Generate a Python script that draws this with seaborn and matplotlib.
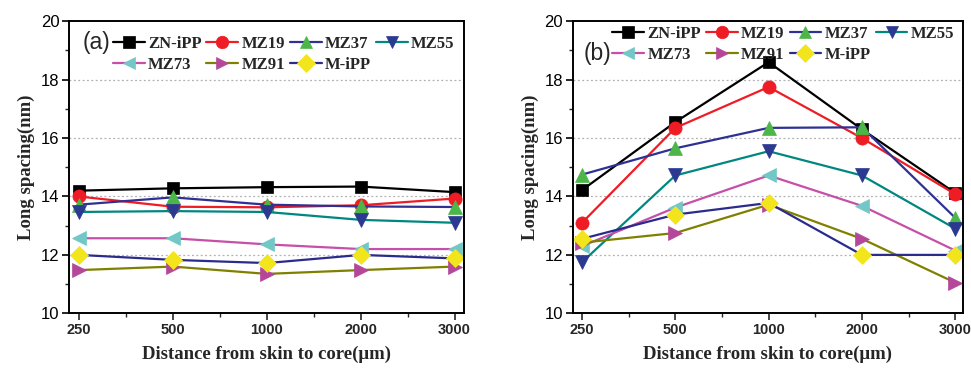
import numpy as np
import pandas as pd
import matplotlib
matplotlib.use("Agg")
import matplotlib.pyplot as plt
import seaborn as sns
from matplotlib.ticker import MultipleLocator, FixedLocator

sns.set_theme(style="white")
plt.rcParams['font.family'] = ['Liberation Sans', 'DejaVu Sans']

distances = ["250", "500", "1000", "2000", "3000"]
series = ["ZN-iPP", "MZ19", "MZ37", "MZ55", "MZ73", "MZ91", "M-iPP"]

a_zn = [14.20, 14.28, 14.32, 14.34, 14.15]
a_mz19 = [14.00, 13.65, 13.63, 13.70, 13.93]
a_mz37 = [13.72, 13.97, 13.72, 13.66, 13.64]
a_mz55 = [13.47, 13.50, 13.47, 13.20, 13.10]
a_mz73 = [12.57, 12.57, 12.36, 12.20, 12.20]
a_mz91 = [11.48, 11.60, 11.35, 11.48, 11.60]
a_mipp = [12.00, 11.83, 11.72, 12.00, 11.88]

b_zn = [14.22, 16.55, 18.60, 16.30, 14.12]
b_mz19 = [13.10, 16.35, 17.75, 16.00, 14.08]
b_mz37 = [14.75, 15.65, 16.35, 16.37, 13.27]
b_mz55 = [11.75, 14.72, 15.55, 14.72, 12.90]
b_mz73 = [12.30, 13.62, 14.72, 13.68, 12.15]
b_mz91 = [12.42, 12.75, 13.72, 12.55, 11.05]
b_mipp = [12.55, 13.38, 13.78, 12.00, 12.00]

line_colors = ["#000000", "#ee1c25", "#2e3192", "#00877f", "#c64fa8", "#808000", "#2b2b8c"]
marker_colors = ["#000000", "#ee1c25", "#4cb748", "#2b3990", "#72c8c6", "#b5479b", "#f2e51c"]
markers = ["s", "o", "^", "v", "<", ">", "D"]
msizes = [8, 9.5, 10, 10, 10, 10, 9]

panels = [
    ("(a)", [a_zn, a_mz19, a_mz37, a_mz55, a_mz73, a_mz91, a_mipp]),
    ("(b)", [b_zn, b_mz19, b_mz37, b_mz55, b_mz73, b_mz91, b_mipp]),
]

fig = plt.figure(figsize=(9.71, 3.69), dpi=100)
axes_pos = [[69/971, 55.7/369, 395/971, 292/369],
            [572.7/971, 55.7/369, 390/971, 292/369]]
label_pos = [(0.070, 0.929), (0.064, 0.891)]
legend_anchor = [(0.111, 0.951), (0.102, 0.985)]

serif = ['Liberation Serif', 'DejaVu Serif']
narrow = ['Liberation Sans Narrow', 'Liberation Sans', 'DejaVu Sans']

# legend order so that rows read ZN-iPP, MZ19, MZ37, MZ55 / MZ73, MZ91, M-iPP
leg_order = [0, 4, 1, 5, 2, 6, 3]

xpos = np.arange(len(distances))
for k, (tag, data) in enumerate(panels):
    ax = fig.add_axes(axes_pos[k])
    for i, name in enumerate(series):
        df = pd.DataFrame({"x": xpos, "y": data[i]})
        sns.lineplot(data=df, x="x", y="y", ax=ax, sort=False, color=line_colors[i],
                     linewidth=1.6, marker=markers[i], markersize=msizes[i],
                     markerfacecolor=marker_colors[i], markeredgecolor=marker_colors[i],
                     markeredgewidth=0.5, label=name)
    ax.set_ylim(10, 20)
    ax.set_xlim(-0.105 if k == 0 else -0.1, 4.1 if k == 0 else 4.08)
    ax.yaxis.set_major_locator(MultipleLocator(2))
    ax.yaxis.set_minor_locator(MultipleLocator(1))
    ax.xaxis.set_major_locator(FixedLocator(xpos))
    ax.xaxis.set_minor_locator(FixedLocator(xpos[:-1] + 0.5))
    ax.set_xticks(xpos)
    ax.set_xticklabels(distances, fontweight='bold', family=narrow, fontsize=10.5)
    for yv in [12, 14, 16, 18]:
        ax.axhline(yv, color='#b0b0b0', linestyle=(0, (1.5, 2)), linewidth=0.9, zorder=0)
    ax.tick_params(axis='y', which='major', direction='out', length=5, width=1.2,
                   labelsize=12, left=True, pad=2, colors='black')
    ax.tick_params(axis='y', which='minor', direction='out', length=3, width=1.0, left=True)
    ax.tick_params(axis='x', which='major', direction='out', length=5, width=1.2,
                   bottom=True, pad=2)
    ax.tick_params(axis='x', which='minor', direction='out', length=3, width=1.0, bottom=True)
    for sp in ax.spines.values():
        sp.set_visible(True)
        sp.set_color('black')
        sp.set_linewidth(1.4)
    ax.set_xlabel("Distance from skin to core(\u03bcm)", fontsize=13.5, fontweight='bold',
                  family=serif, labelpad=6)
    ax.set_ylabel("Long spacing(nm)", fontsize=13.5, fontweight='bold', family=serif, labelpad=4)
    ax.grid(False)
    ax.text(label_pos[k][0], label_pos[k][1], tag, transform=ax.transAxes, fontsize=16.5,
            ha='center', va='center', family=['Liberation Sans', 'DejaVu Sans'])
    handles, labels = ax.get_legend_handles_labels()
    handles = [handles[j] for j in leg_order]
    labels = [labels[j] for j in leg_order]
    leg = ax.legend(handles, labels, loc='upper left', bbox_to_anchor=legend_anchor[k],
                    ncol=4, frameon=False,
                    prop={'family': serif, 'weight': 'bold', 'size': 12},
                    handlelength=1.9, handletextpad=0.2, columnspacing=0.3,
                    borderpad=0.0, borderaxespad=0.0, labelspacing=0.32)
    for h in leg.legend_handles:
        h.set_markersize(9)

fig.savefig("out.png", dpi=100)
